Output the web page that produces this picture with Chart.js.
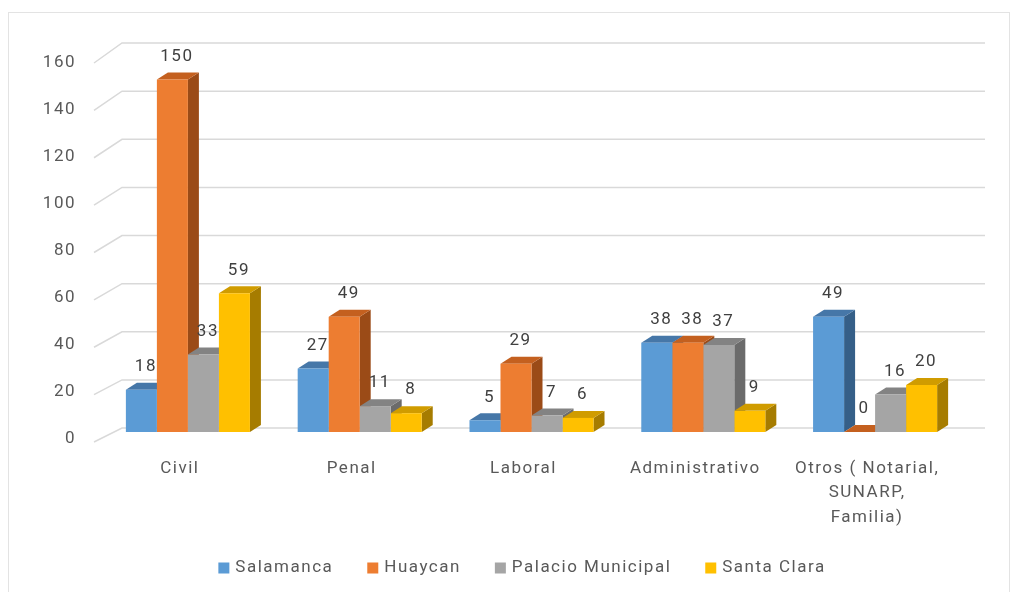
<!DOCTYPE html>
<html>
<head>
<meta charset="utf-8">
<script src="https://cdn.jsdelivr.net/npm/chart.js@4"></script>
<style>
  html, body { margin: 0; padding: 0; background: #fff; }
  #wrap { position: relative; width: 1020px; height: 592px; overflow: hidden; }
  #frame { position: absolute; left: 8px; top: 12px; width: 1002px; height: 620px; border: 1px solid #e3e3e3; box-sizing: border-box; }
  #myChart { position: absolute; left: 0; top: 0; }
</style>
</head>
<body>
<div id="wrap">
  <div id="frame"></div>
  <canvas id="myChart" width="1020" height="592"></canvas>
</div>
<script>
// data
var categories = ['Civil', 'Penal', 'Laboral', 'Administrativo', ['Otros ( Notarial,', 'SUNARP,', 'Familia)']];
var salamanca = [18, 27, 5, 38, 49];
var huaycan = [150, 49, 29, 38, 0];
var palacio = [33, 11, 7, 37, 16];
var santaClara = [59, 8, 6, 9, 20];
var yTicks = [0, 20, 40, 60, 80, 100, 120, 140, 160];

var FONT = 'Roboto';
var depthX = 11, depthY = -7;

// fake 3d: gridlines, side and top faces of the bars
var bars3d = {
    id: 'bars3d',
    beforeLayout: function(chart) { chart.ctx.letterSpacing = '1.5px'; },
    beforeDraw: function(chart) { chart.ctx.letterSpacing = '1.5px'; },
    beforeDatasetsDraw: function(chart) {
        var ctx = chart.ctx, a = chart.chartArea, ys = chart.scales.y;
        ctx.save();
        ctx.strokeStyle = '#d9d9d9';
        ctx.lineWidth = 1.5;
        yTicks.forEach(function(v) {
            var f = (ys.getPixelForValue(v) - a.bottom) / (a.top - a.bottom);
            var by = (a.bottom - 4) + f * ((a.top - 13) - (a.bottom - 4));
            var fy = (a.bottom + 10) + f * ((a.top + 7) - (a.bottom + 10));
            ctx.beginPath();
            ctx.moveTo(a.left - 8, fy);
            ctx.lineTo(a.left + 20, by);
            ctx.lineTo(a.right + 24, by);
            ctx.stroke();
        });
        chart.data.datasets.forEach(function(ds, i) {
            var meta = chart.getDatasetMeta(i);
            meta.data.forEach(function(bar) {
                var p = bar.getProps(['x', 'y', 'base', 'width'], true);
                var l = p.x - p.width / 2, r = p.x + p.width / 2;
                ctx.fillStyle = ds.sideColor;
                ctx.beginPath();
                ctx.moveTo(r, p.y);
                ctx.lineTo(r + depthX, p.y + depthY);
                ctx.lineTo(r + depthX, p.base + depthY);
                ctx.lineTo(r, p.base);
                ctx.closePath();
                ctx.fill();
                ctx.fillStyle = ds.topColor;
                ctx.beginPath();
                ctx.moveTo(l, p.y);
                ctx.lineTo(l + depthX, p.y + depthY);
                ctx.lineTo(r + depthX, p.y + depthY);
                ctx.lineTo(r, p.y);
                ctx.closePath();
                ctx.fill();
            });
        });
        ctx.restore();
    },
    afterDatasetsDraw: function(chart) {
        var ctx = chart.ctx;
        ctx.save();
        ctx.font = '17px ' + FONT;
        ctx.fillStyle = '#404040';
        ctx.textAlign = 'center';
        ctx.textBaseline = 'middle';
        chart.data.datasets.forEach(function(ds, i) {
            chart.getDatasetMeta(i).data.forEach(function(bar, j) {
                ctx.fillText(String(ds.data[j]), bar.x + depthX / 2 - 1, bar.y - 23);
            });
        });
        ctx.restore();
    },
    afterDraw: function(chart) {
        // legend
        var ctx = chart.ctx;
        ctx.save();
        ctx.font = '17px ' + FONT;
        ctx.textBaseline = 'middle';
        ctx.textAlign = 'left';
        var box = 11, gapText = 6, gapItem = 34, y = 568;
        var total = 0;
        chart.data.datasets.forEach(function(ds, i) {
            total += box + gapText + ctx.measureText(ds.label).width + (i ? gapItem : 0);
        });
        var x = 522 - total / 2;
        chart.data.datasets.forEach(function(ds) {
            ctx.fillStyle = ds.backgroundColor;
            ctx.fillRect(x, y - box / 2, box, box);
            x += box + gapText;
            ctx.fillStyle = '#595959';
            ctx.fillText(ds.label, x, y);
            x += ctx.measureText(ds.label).width + gapItem;
        });
        ctx.restore();
    }
};

var ctx1 = document.getElementById('myChart').getContext('2d');

var myChart = new Chart(ctx1, {
    type: 'bar',
    data: {
        labels: categories,
        datasets: [
            { label: 'Salamanca', data: salamanca, backgroundColor: '#5B9BD5', topColor: '#4677A8', sideColor: '#355F88' },
            { label: 'Huaycan', data: huaycan, backgroundColor: '#ED7D31', topColor: '#C4601F', sideColor: '#9B4B17' },
            { label: 'Palacio Municipal', data: palacio, backgroundColor: '#A5A5A5', topColor: '#838383', sideColor: '#6B6B6B' },
            { label: 'Santa Clara', data: santaClara, backgroundColor: '#FFC000', topColor: '#D09C00', sideColor: '#A67C00' }
        ]
    },
    options: {
        responsive: false,
        animation: false,
        categoryPercentage: 0.722,
        barPercentage: 1,
        layout: { padding: { top: 56, left: 30, right: 59, bottom: 0 } },
        plugins: {
            legend: { display: false },
            tooltip: { enabled: false }
        },
        scales: {
            x: {
                grid: { display: false, drawTicks: false },
                border: { display: false },
                ticks: {
                    color: '#595959',
                    font: { family: FONT, size: 17, lineHeight: 1.45 },
                    padding: 24,
                    labelOffset: -8,
                    maxRotation: 0,
                    autoSkip: false
                },
                afterFit: function(scale) { scale.height = 160; }
            },
            y: {
                min: 0,
                max: 160,
                grid: { display: false, drawTicks: false },
                border: { display: false },
                ticks: {
                    stepSize: 20,
                    color: '#595959',
                    font: { family: FONT, size: 17 },
                    padding: 26,
                    labelOffset: 7
                },
                afterFit: function(scale) { scale.width = 72; }
            }
        }
    },
    plugins: [bars3d]
});
</script>
</body>
</html>
